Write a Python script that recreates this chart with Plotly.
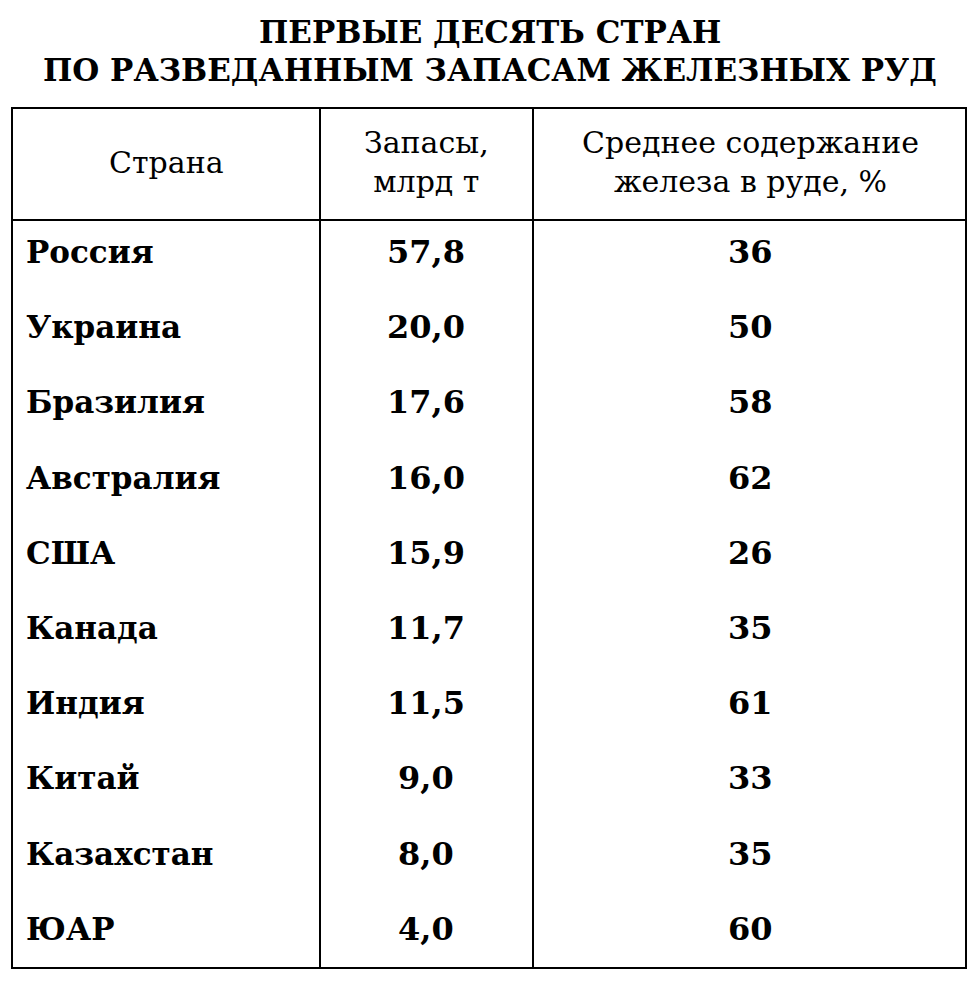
import plotly.graph_objects as go

title_lines = ["ПЕРВЫЕ ДЕСЯТЬ СТРАН", "ПО РАЗВЕДАННЫМ ЗАПАСАМ ЖЕЛЕЗНЫХ РУД"]
headers = ["Страна", "Запасы,<br>млрд т", "Среднее содержание<br>железа в руде, %"]
countries = ["Россия", "Украина", "Бразилия", "Австралия", "США", "Канада", "Индия", "Китай", "Казахстан", "ЮАР"]
reserves = ["57,8", "20,0", "17,6", "16,0", "15,9", "11,7", "11,5", "9,0", "8,0", "4,0"]
iron_content = ["36", "50", "58", "62", "26", "35", "61", "33", "35", "60"]

W, H = 979, 982
OFF = 8  # page body margin
left, right, top, head_bot, bottom = 12, 966, 108, 220, 968
col_x = [320, 533]
row0, row_step = 252, 75.2
FONT = "DejaVu Serif"

fig = go.Figure()
ann = []
for i, t in enumerate(title_lines):
    ann.append(dict(x=490, y=32 + 38 * i, text=f"<b>{t}</b>", showarrow=False,
                    font=dict(family=FONT, size=31, color="black"), xanchor="center", yanchor="middle"))
hx = [166, 426, 750]
for x, h in zip(hx, headers):
    ann.append(dict(x=x, y=162, text=h, showarrow=False, align="center",
                    font=dict(family=FONT, size=30, color="black"), xanchor="center", yanchor="middle"))
for i, (c, r, p) in enumerate(zip(countries, reserves, iron_content)):
    y = row0 + i * row_step
    ann.append(dict(x=24, y=y, text=f"<b>{c}</b>", showarrow=False, xanchor="left", yanchor="middle",
                    font=dict(family=FONT, size=31, color="black")))
    ann.append(dict(x=426, y=y, text=f"<b>{r}</b>", showarrow=False, xanchor="center", yanchor="middle",
                    font=dict(family=FONT, size=32, color="black")))
    ann.append(dict(x=750, y=y, text=f"<b>{p}</b>", showarrow=False, xanchor="center", yanchor="middle",
                    font=dict(family=FONT, size=32, color="black")))

ln = dict(color="black", width=2)
shapes = [dict(type="rect", x0=left, x1=right, y0=top, y1=bottom, line=ln),
          dict(type="line", x0=left, x1=right, y0=head_bot, y1=head_bot, line=ln)]
for x in col_x:
    shapes.append(dict(type="line", x0=x, x1=x, y0=top, y1=bottom, line=ln))

fig.update_layout(width=W, height=H, margin=dict(l=0, r=0, t=0, b=0),
                  paper_bgcolor="white", plot_bgcolor="white",
                  xaxis=dict(range=[OFF, W + OFF], visible=False, fixedrange=True),
                  yaxis=dict(range=[H + OFF, OFF], visible=False, fixedrange=True),
                  annotations=ann, shapes=shapes, showlegend=False)
fig.write_html("out.html")
